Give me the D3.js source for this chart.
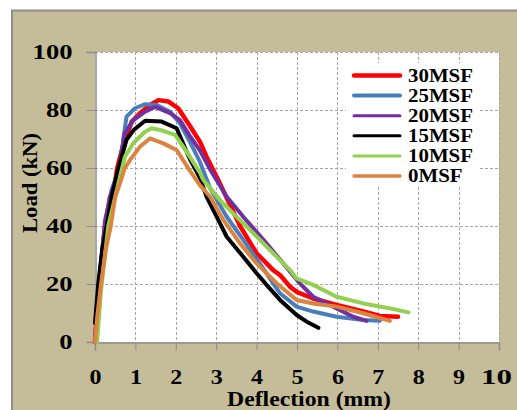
<!DOCTYPE html>
<html>
<head>
<meta charset="utf-8">
<script src="https://cdn.jsdelivr.net/npm/d3@7/dist/d3.min.js"></script>
<style>
  html, body { margin: 0; padding: 0; background: #ffffff; }
  svg { display: block; }
  text { font-family: "Liberation Serif", "Times New Roman", serif; font-weight: bold; fill: #000; }
</style>
</head>
<body>
<svg id="chart" width="517" height="410"></svg>
<script>
// Load–deflection curves for beams with different MSF contents
const seriesNames = ["30MSF", "25MSF", "20MSF", "15MSF", "10MSF", "0MSF"];

const x30 = [0, 0.1, 0.25, 0.37, 0.45, 0.55, 0.7, 0.91, 1.11, 1.36, 1.57, 1.82, 2.06, 2.35, 2.6, 2.76, 3.05, 3.42, 3.59, 4.0, 4.41, 4.58, 4.83, 4.99, 5.4, 5.98, 6.64, 7.05, 7.5];
const y30 = [0, 20, 40, 50, 51, 60, 68, 76, 78.9, 81.7, 83.4, 82.9, 80.6, 74.5, 69, 63.9, 55.9, 45, 40, 30.6, 24.8, 23.1, 19, 17.3, 15, 12.8, 10.5, 9, 8.7];

const x25 = [0, 0.1, 0.25, 0.4, 0.55, 0.66, 0.7, 0.78, 0.99, 1.24, 1.53, 1.86, 2.1, 2.35, 2.6, 2.85, 3.26, 3.67, 4.08, 4.41, 4.58, 4.99, 5.4, 5.98, 6.64, 7.05];
const y25 = [0, 20, 40, 52, 58, 62, 70, 77.7, 80.6, 82, 81.7, 79.4, 75.4, 69, 62, 53, 43.2, 35.2, 27.1, 20.2, 16.8, 12.2, 10.5, 8.7, 7.6, 7.3];

const x20 = [0, 0.1, 0.25, 0.4, 0.55, 0.62, 0.66, 0.74, 0.95, 1.24, 1.49, 1.86, 2.1, 2.35, 2.6, 2.85, 3.26, 3.67, 4.17, 4.66, 5.07, 5.4, 5.98, 6.39, 6.72];
const y20 = [0, 20, 42, 51, 57, 60, 66, 72, 76.5, 79.4, 81.1, 78.9, 76.5, 71, 66, 59.5, 50.1, 43.2, 35.2, 27.1, 20.2, 15.6, 11.6, 8.7, 7.3];

const x15 = [0, 0.08, 0.18, 0.29, 0.41, 0.58, 0.78, 0.95, 1.24, 1.65, 2.02, 2.35, 2.6, 2.76, 3.01, 3.26, 3.67, 4.0, 4.29, 4.58, 4.99, 5.24, 5.53];
const y15 = [6.5, 20, 32, 40, 50, 60, 69.7, 73, 76.3, 76, 73.7, 63, 56.5, 50.1, 43.2, 36.3, 29.4, 23.7, 19, 14.5, 9.3, 7, 4.9];

const x10 = [0.05, 0.15, 0.33, 0.5, 0.62, 0.74, 0.95, 1.24, 1.4, 1.65, 1.98, 2.27, 2.6, 2.68, 3.09, 3.5, 3.92, 4.41, 4.83, 4.99, 5.4, 5.98, 6.64, 7.3, 7.76];
const y10 = [0, 18, 40, 50, 57, 63.9, 68.6, 72.5, 73.7, 73, 71.4, 65.6, 58.3, 55.9, 49, 43.2, 37.5, 30.6, 24.8, 21.9, 19.7, 15.6, 13.3, 11.6, 10.2];

const x0 = [0, 0.05, 0.15, 0.27, 0.39, 0.5, 0.62, 0.74, 0.87, 1.11, 1.36, 1.69, 2.02, 2.35, 2.6, 2.85, 3.18, 3.59, 4.0, 4.5, 4.99, 5.4, 5.98, 6.64, 7.3];
const y0 = [0, 8, 20, 32, 40, 50, 54.8, 60, 62.8, 67.3, 70.2, 68.5, 66.2, 59, 54, 50.1, 42, 34, 27.1, 20.2, 14.5, 13.3, 12.2, 9.9, 7.3];

const xTicks = [0, 1, 2, 3, 4, 5, 6, 7, 8, 9, 10];
const yTicks = [0, 20, 40, 60, 80, 100];

const colors = ["#ff0000", "#4a7ebb", "#7030a0", "#000000", "#92d050", "#db8440"];
const legendWidths = [4.5, 4, 3, 3, 3, 3.5];
const xs = [x30, x25, x20, x15, x10, x0];
const ys = [y30, y25, y20, y15, y10, y0];

const svg = d3.select("#chart");

// stretch a start-anchored label to a given length
function fit(sel, len) {
  sel.attr("text-anchor", "start").attr("textLength", len).attr("lengthAdjust", "spacingAndGlyphs");
}

// outer panel
svg.append("rect")
  .attr("x", 12).attr("y", 10.5).attr("width", 520).attr("height", 410)
  .attr("fill", "#c5bd99").attr("stroke", "#8e8e8e").attr("stroke-width", 2);

const plot = { left: 95, right: 499, top: 52, bottom: 342 };
const x = d3.scaleLinear().domain([0, 10]).range([plot.left, plot.right]);
const y = d3.scaleLinear().domain([0, 100]).range([plot.bottom, plot.top]);

// plot background
svg.append("rect")
  .attr("x", plot.left).attr("y", plot.top)
  .attr("width", plot.right - plot.left).attr("height", plot.bottom - plot.top)
  .attr("fill", "#ffffff");

// dashed grid
const grid = svg.append("g").attr("stroke", "#a6a6a6").attr("stroke-width", 1).attr("stroke-dasharray", "3,2");
grid.selectAll("line.v").data(xTicks.slice(1)).join("line")
  .attr("x1", d => Math.round(x(d)) + 0.5).attr("x2", d => Math.round(x(d)) + 0.5)
  .attr("y1", plot.top).attr("y2", plot.bottom);
grid.selectAll("line.h").data(yTicks.slice(1)).join("line")
  .attr("y1", d => Math.round(y(d)) + 0.5).attr("y2", d => Math.round(y(d)) + 0.5)
  .attr("x1", plot.left).attr("x2", plot.right);

// axes
const xAxis = svg.append("g").attr("transform", `translate(0,${plot.bottom + 0.5})`)
  .call(d3.axisBottom(x).tickValues(xTicks).tickSize(8).tickFormat(d3.format("d")));
const yAxis = svg.append("g").attr("transform", `translate(${plot.left + 0.5},0)`)
  .call(d3.axisLeft(y).tickValues(yTicks).tickSize(9).tickFormat(d3.format("d")));

[xAxis, yAxis].forEach(a => {
  a.attr("font-family", null).attr("font-size", null);
  a.select(".domain").attr("stroke", "#8c8c8c").attr("stroke-width", 1.5);
  a.selectAll(".tick line").attr("stroke", "#8c8c8c");
  a.selectAll("text").style("font-size", "20px");
});
xAxis.selectAll(".tick text").each(function (d) {
  const len = String(d).length === 1 ? 12 : 31;
  const shift = String(d).length === 1 ? 0 : -3;
  fit(d3.select(this).attr("x", -len / 2 + shift).attr("y", 41).attr("dy", 0), len);
});
yAxis.selectAll(".tick text").each(function (d) {
  const len = String(d).length * 13.3;
  fit(d3.select(this).attr("x", -23 - len).attr("dy", "0.33em"), len);
});

// curves
const line = d3.line().x(d => x(d[0])).y(d => y(d[1]));
const curves = svg.append("g");
seriesNames.forEach((name, i) => {
  const pts = xs[i].map((v, j) => [v, ys[i][j]]);
  curves.append("path")
    .datum(pts)
    .attr("d", line)
    .attr("fill", "none")
    .attr("stroke", colors[i])
    .attr("stroke-width", i === 0 ? 4.5 : 4)
    .attr("stroke-linejoin", "round")
    .attr("stroke-linecap", "round");
});

// legend
const legend = svg.append("g");
legend.append("rect").attr("x", 346).attr("y", 63).attr("width", 132).attr("height", 123).attr("fill", "#ffffff");
seriesNames.forEach((name, i) => {
  const cy = 75.5 + i * 20.1;
  legend.append("line")
    .attr("x1", 354).attr("x2", 400).attr("y1", cy).attr("y2", cy)
    .attr("stroke", colors[i]).attr("stroke-width", legendWidths[i])
    .attr("stroke-linecap", "round");
  const t = legend.append("text")
    .attr("x", 408).attr("y", cy + 6)
    .style("font-size", "18px")
    .text(name);
  fit(t, t.node().getComputedTextLength() * 1.16);
});

// axis titles
const xt = svg.append("text")
  .attr("x", 227).attr("y", 405.5)
  .style("font-size", "20px")
  .text("Deflection (mm)");
fit(xt, 164);

const yt = svg.append("text")
  .attr("transform", "translate(37,233) rotate(-90)")
  .style("font-size", "20px")
  .text("Load (kN)");
fit(yt, 100);
</script>
</body>
</html>
